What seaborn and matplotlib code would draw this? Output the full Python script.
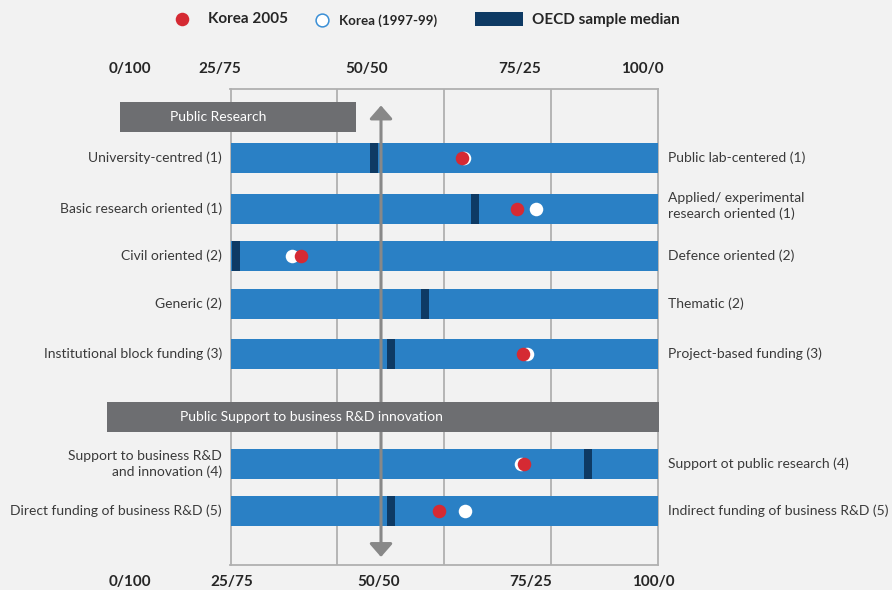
import numpy as np
import pandas as pd
import matplotlib
matplotlib.use("Agg")
import matplotlib.pyplot as plt
import seaborn as sns
from matplotlib.patches import Rectangle

# ---------------- data ----------------
left_labels = [
    "University-centred (1)",
    "Basic research oriented (1)",
    "Civil oriented (2)",
    "Generic (2)",
    "Institutional block funding (3)",
    "Support to business R&D\nand innovation (4)",
    "Direct funding of business R&D (5)",
]
right_labels = [
    "Public lab-centered (1)",
    "Applied/ experimental\nresearch oriented (1)",
    "Defence oriented (2)",
    "Thematic (2)",
    "Project-based funding (3)",
    "Support ot public research (4)",
    "Indirect funding of business R&D (5)",
]
korea_2005 = [65.6, 75.3, 37.3, np.nan, 76.4, 76.5, 61.6]
korea_1997_99 = [65.9, 78.6, 35.8, np.nan, 77.0, 75.9, 66.2]
oecd_median = [50.2, 67.9, 26.0, 59.2, 53.2, 87.8, 53.2]
scale_labels = ["0/100", "25/75", "50/50", "75/25", "100/0"]
section_titles = ["Public Research", "Public Support to business R&D innovation"]
legend_labels = ["Korea 2005", "Korea (1997-99)", "OECD sample median"]

# ---------------- layout / style ----------------
W, H, DPI = 892, 590, 100
BG = "#f2f2f2"
BLUE = "#2a80c5"
NAVY = "#0e3a64"
RED = "#d52a33"
HEAD = "#6d6e71"
GRID = "#b0b0b0"
ARROW = "#888888"
TXT = "#3a3a3a"
BOLD_TXT = "#262626"

AX_L, AX_R, AX_T, AX_B = 230.5, 658.0, 89.0, 565.0   # pixel frame
ROW_Y = [158, 208.5, 256, 304, 354, 464, 511]          # row centres (px from top)
BAR_H = 30

sns.set_theme(style="white")
plt.rcParams["font.family"] = ["Lato", "DejaVu Sans"]

fig = plt.figure(figsize=(W / DPI, H / DPI), dpi=DPI, facecolor=BG)

# overlay axes in pixel coordinates for annotations
ov = fig.add_axes([0, 0, 1, 1], zorder=10)
ov.set_xlim(0, W)
ov.set_ylim(H, 0)
ov.axis("off")
ov.patch.set_alpha(0)

ax = fig.add_axes([AX_L / W, (H - AX_B) / H, (AX_R - AX_L) / W, (AX_B - AX_T) / H])
ax.set_facecolor(BG)


def px2x(px):
    return 25 + (px - AX_L) * 75.0 / (AX_R - AX_L)


# main bars
df = pd.DataFrame({"y": ROW_Y, "x": [100] * len(ROW_Y)})
min_gap = np.diff(sorted(ROW_Y)).min()
sns.barplot(data=df, x="x", y="y", orient="h", native_scale=True,
            width=BAR_H / min_gap, color=BLUE, saturation=1, linewidth=0,
            errorbar=None, ax=ax, zorder=2)

# OECD medians
med = np.array(oecd_median)
ax.barh(ROW_Y, 1.4, left=med - 0.7, height=BAR_H, color=NAVY, linewidth=0, zorder=3)

# grid / frame
for v in [43.75, 62.5, 81.25]:
    ax.axvline(v, color=GRID, lw=1.3, zorder=1)
for s in ax.spines.values():
    s.set_visible(True)
    s.set_color(GRID)
    s.set_linewidth(1.3)
    s.set_zorder(1)

ax.set_xlim(25, 100)
ax.set_ylim(AX_B, AX_T)
ax.set_xticks([])
ax.set_yticks([])
ax.set_xlabel("")
ax.set_ylabel("")

# arrow at the 50/50 line
ax.annotate("", xy=(px2x(381), 105.5), xytext=(px2x(381), 557),
            arrowprops=dict(arrowstyle="<|-|>,head_length=0.8,head_width=0.7",
                            color=ARROW, lw=2.2, shrinkA=0, shrinkB=0,
                            mutation_scale=10),
            zorder=4, annotation_clip=False)

# Korea points
sns.scatterplot(x=korea_1997_99, y=ROW_Y, color="white", s=95, linewidth=0,
                ax=ax, zorder=5, legend=False)
sns.scatterplot(x=korea_2005, y=ROW_Y, color=RED, s=95, linewidth=0,
                ax=ax, zorder=6, legend=False)
ax.set_xlabel("")
ax.set_ylabel("")

# row labels
for y, lab in zip(ROW_Y, left_labels):
    ov.text(222, y, lab, ha="right", va="center", fontsize=10, color=TXT,
            linespacing=1.25)
for y, lab in zip(ROW_Y, right_labels):
    yy = y - 2.5 if "\n" in lab else y
    ov.text(668, yy, lab, ha="left", va="center", fontsize=10, color=TXT,
            linespacing=1.25)

# section headers
ov.add_patch(Rectangle((120, 102), 235.5, 29.5, color=HEAD, lw=0, zorder=11))
ov.text(170, 117, section_titles[0], ha="left", va="center", fontsize=10,
        color="white", zorder=12)
ov.add_patch(Rectangle((107, 402), 552, 30, color=HEAD, lw=0, zorder=11))
ov.text(180, 417, section_titles[1], ha="left", va="center", fontsize=10,
        color="white", zorder=12)

# scale labels (top and bottom)
top_x = [130, 220, 367, 520, 642]
bot_x = [130, 232, 379, 531, 653]
for x, lab in zip(top_x, scale_labels):
    ov.text(x, 68.5, lab, ha="center", va="center", fontsize=11,
            fontweight="bold", color=BOLD_TXT)
for x, lab in zip(bot_x, scale_labels):
    ov.text(x, 582, lab, ha="center", va="center", fontsize=11,
            fontweight="bold", color=BOLD_TXT)

# legend
ov.scatter([182], [19], s=95, color=RED, linewidth=0)
ov.text(208, 19, legend_labels[0], ha="left", va="center", fontsize=11,
        fontweight="bold", color=BOLD_TXT)
ov.scatter([321.7], [20], s=85, facecolor="white", edgecolor="#3a8fd6", linewidth=1.1)
ov.text(339, 20.5, legend_labels[1], ha="left", va="center", fontsize=9.6,
        fontweight="bold", color=BOLD_TXT)
ov.add_patch(Rectangle((475, 12), 48, 14, color=NAVY, lw=0))
ov.text(532, 20, legend_labels[2], ha="left", va="center", fontsize=11,
        fontweight="bold", color=BOLD_TXT)

fig.savefig("out.png", dpi=DPI, facecolor=BG)
